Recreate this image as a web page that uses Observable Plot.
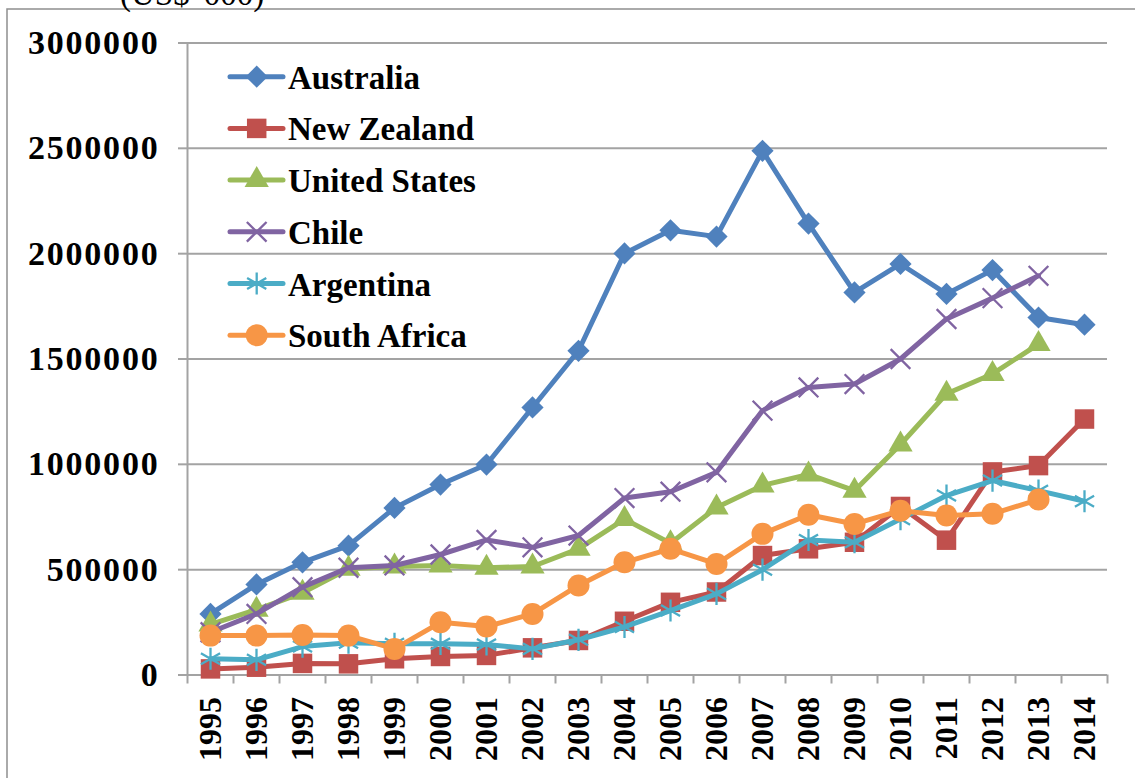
<!DOCTYPE html>
<html><head><meta charset="utf-8">
<script src="https://cdn.jsdelivr.net/npm/d3@7"></script>
<script src="https://cdn.jsdelivr.net/npm/@observablehq/plot@0.6"></script>
<style>
body{margin:0;background:#fff;}
#chart{position:relative;width:1135px;height:778px;overflow:hidden;background:#fff;}
</style></head><body><div id="chart"></div>
<script>
// ---- data (US$ '000) ----
const years = [1995,1996,1997,1998,1999,2000,2001,2002,2003,2004,2005,2006,2007,2008,2009,2010,2011,2012,2013,2014];
const australia   = [290000,430000,535000,614000,793000,904000,999000,1270000,1539000,2001000,2111000,2081000,2488000,2143000,1816000,1951000,1809000,1922000,1697000,1663000];
const newZealand  = [29000,37000,55000,53000,77000,88000,93000,129000,164000,255000,345000,394000,567000,599000,630000,800000,640000,964000,994000,1215000];
const unitedStates= [240000,310000,390000,504000,515000,520000,509000,515000,599000,740000,625000,795000,900000,952000,875000,1094000,1335000,1429000,1571000,null];
const chile       = [203000,290000,417000,509000,520000,572000,641000,606000,662000,840000,870000,962000,1255000,1365000,1381000,1500000,1690000,1789000,1895000,null];
const argentina   = [77000,72000,135000,153000,148000,148000,145000,124000,167000,228000,306000,385000,500000,641000,630000,740000,852000,923000,875000,825000];
const southAfrica = [187000,187000,190000,187000,124000,250000,230000,290000,425000,535000,599000,527000,670000,761000,717000,780000,757000,765000,833000,null];
const seriesNames = ["Australia","New Zealand","United States","Chile","Argentina","South Africa"];
const seriesValues = [australia,newZealand,unitedStates,chile,argentina,southAfrica];
const yTicks = [0,500000,1000000,1500000,2000000,2500000,3000000];
const unitLabel = "(US$ '000)";

// ---- styles ----
const colors = ["#4F81BD","#C0504D","#9BBB59","#8064A2","#4BACC6","#F79646"];
const markers = [
  {symbol:"diamond2", r:10,  filled:true},
  {symbol:"square",   r:11,  filled:true},
  {symbol:"triangle", r:9,   filled:true},
  {symbol:"times",    r:9,   filled:false},
  {symbol:"asterisk", r:10.5,filled:false},
  {symbol:"circle",   r:11,  filled:true}
];
const d3sym = {diamond2:d3.symbolDiamond2, square:d3.symbolSquare, triangle:d3.symbolTriangle, times:d3.symbolTimes, asterisk:d3.symbolAsterisk, circle:d3.symbolCircle};

const rows = [];
seriesNames.forEach((name,i)=>{
  seriesValues[i].forEach((v,j)=>{ if (v!=null) rows.push({series:name, year:years[j], value:v}); });
});
const boundaries = years.map(y=>y-0.5).concat([years[years.length-1]+0.5]);

const W=1135, H=778, L=187, R=1107, T=42.5, B=674.5;
const grid = "#a3a3a3";
const font = "'Liberation Serif', 'Times New Roman', serif";

const marks = [
  Plot.ruleY(yTicks, {stroke:grid, strokeWidth:2}),
  Plot.ruleX([boundaries[0]], {stroke:grid, strokeWidth:2}),
  Plot.axisY({ticks:yTicks, tickSize:9, tickPadding:19, stroke:grid, strokeWidth:2, fill:"#000",
    tickFormat:d=>String(d), fontSize:34, fontWeight:"bold", label:null}),
  Plot.axisX({ticks:boundaries, tickSize:9, stroke:grid, strokeWidth:2, text:null, label:null}),
  Plot.axisX({ticks:years, tickSize:0, tickPadding:22, tickRotate:-90, fill:"#000",
    tickFormat:d=>String(d), fontSize:32, fontWeight:"bold", label:null})
];
seriesNames.forEach((name,i)=>{
  const data = rows.filter(d=>d.series===name);
  const m = markers[i];
  marks.push(Plot.line(data, {x:"year", y:"value", stroke:colors[i], strokeWidth:5, strokeLinejoin:"round", strokeLinecap:"round"}));
  marks.push(Plot.dot(data, {x:"year", y:"value", symbol:()=>m.symbol, r:m.r,
    fill: m.filled ? colors[i] : "none", stroke: m.filled ? "none" : colors[i], strokeWidth: m.filled?0:2.3}));
});

const svg = Plot.plot({
  width:W, height:H, marginLeft:L, marginRight:W-R, marginTop:T, marginBottom:H-B,
  style:{fontFamily:font, background:"transparent", overflow:"visible"},
  x:{type:"linear", domain:[boundaries[0], boundaries[boundaries.length-1]]},
  y:{domain:[0,3000000]},
  symbol:{type:"identity"},
  marks
});
const s = d3.select(svg);
s.selectAll("g[aria-label='y-axis tick label'] text").attr("letter-spacing","1.8");

// outer border and cut-off unit label
s.insert("rect", ":first-child").attr("x",7).attr("y",9).attr("width",1300).attr("height",900)
  .attr("fill","none").attr("stroke","#8f8f8f").attr("stroke-width",1.5);
s.append("text").attr("x",120).attr("y",5).attr("text-anchor","start").attr("font-family",font).attr("font-size",33)
  .attr("fill","#000").text(unitLabel);

// legend
const lg = s.append("g").attr("font-family",font).attr("text-anchor","start");
seriesNames.forEach((name,i)=>{
  const y = 76.7 + 51.7*i;
  const g = lg.append("g");
  g.append("line").attr("x1",230).attr("x2",283).attr("y1",y).attr("y2",y)
    .attr("stroke",colors[i]).attr("stroke-width",5).attr("stroke-linecap","round");
  const m = markers[i];
  g.append("path").attr("transform",`translate(256.7,${y})`)
    .attr("d", d3.symbol(d3sym[m.symbol], Math.PI*m.r*m.r)())
    .attr("fill", m.filled?colors[i]:"none").attr("stroke", m.filled?"none":colors[i]).attr("stroke-width",2.3);
  g.append("text").attr("x",288).attr("y",y+12).attr("text-anchor","start").attr("font-size",33).attr("font-weight","bold")
    .attr("fill","#000").text(name);
});
document.getElementById("chart").appendChild(svg);
</script></body></html>
